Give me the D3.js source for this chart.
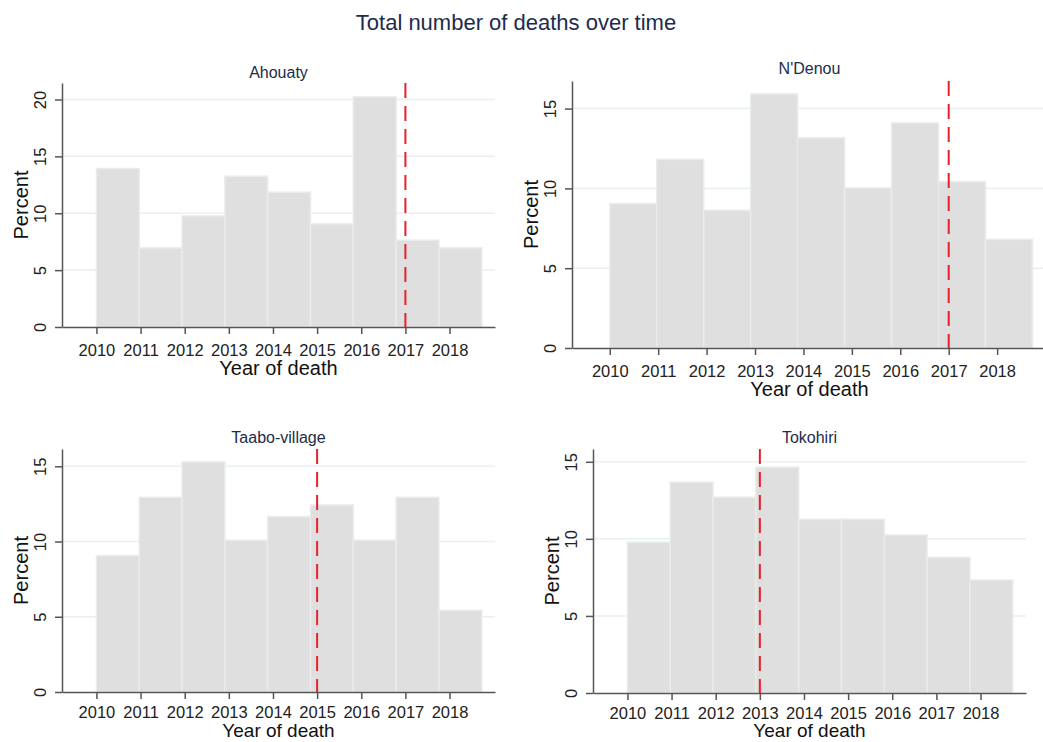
<!DOCTYPE html>
<html>
<head>
<meta charset="utf-8">
<script src="https://cdn.jsdelivr.net/npm/d3@7"></script>
<style>
  body { margin: 0; background: #fff; font-family: "Liberation Sans", Arial, sans-serif; }
</style>
</head>
<body>
<div id="chart"></div>
<script>
// percent of deaths per bin
const villages = ["Ahouaty", "N'Denou", "Taabo-village", "Tokohiri"];
const ahouaty  = [13.93, 6.95, 9.76, 13.25, 11.85, 9.06, 20.23, 7.63, 6.95];
const ndenou   = [9.05, 11.82, 8.63, 15.92, 13.18, 10.03, 14.1, 10.42, 6.81];
const taabo    = [9.06, 12.94, 15.29, 10.08, 11.66, 12.43, 10.08, 12.94, 5.43];
const tokohiri = [9.78, 13.68, 12.7, 14.65, 11.27, 11.27, 10.25, 8.8, 7.33];
const series = [ahouaty, ndenou, taabo, tokohiri];

const yearTicks = [2010, 2011, 2012, 2013, 2014, 2015, 2016, 2017, 2018];
const percentTicks = [[0, 5, 10, 15, 20], [0, 5, 10, 15], [0, 5, 10, 15], [0, 5, 10, 15]];
const percentMax = [21.45, 16.73, 16.15, 15.83];
const cutoffYear = [2017, 2017, 2015, 2013];
const binStart = 2010, binWidth = 0.97;
const yearDomain = [2009.22, 2019.03];

// panel boxes (pixels)
const boxes = [
  { left: 62, right: 495, top: 83, bottom: 327, titleY: 72, tickY: 23, xTitle: 41, xTitleSize: 20 },
  { left: 572, right: 1047, top: 81, bottom: 348, titleY: 68, tickY: 23, xTitle: 41, xTitleSize: 20 },
  { left: 62, right: 495, top: 449, bottom: 692, titleY: 437, tickY: 20, xTitle: 38.5, xTitleSize: 19 },
  { left: 593, right: 1026, top: 449, bottom: 693, titleY: 437, tickY: 20, xTitle: 37.5, xTitleSize: 19 }
];

const svg = d3.select("#chart").append("svg")
  .attr("width", 1043)
  .attr("height", 742);

svg.append("text")
  .attr("x", 516).attr("y", 22)
  .attr("text-anchor", "middle")
  .attr("dominant-baseline", "central")
  .attr("fill", "#1d2b4c")
  .style("font-size", "22px")
  .text("Total number of deaths over time");

series.forEach((vals, i) => {
  const b = boxes[i];
  const g = svg.append("g");

  const x = d3.scaleLinear().domain(yearDomain).range([b.left, b.right]);
  const y = d3.scaleLinear().domain([0, percentMax[i]]).range([b.bottom, b.top]);

  // gridlines
  g.selectAll(".grid")
    .data(percentTicks[i].filter(t => t > 0))
    .enter().append("line")
    .attr("x1", b.left).attr("x2", b.right)
    .attr("y1", d => y(d)).attr("y2", d => y(d))
    .attr("stroke", "#e8f0f1")
    .attr("stroke-width", 1.5);

  const bins = vals.map((v, k) => ({ x0: binStart + k * binWidth, x1: binStart + (k + 1) * binWidth, v }));

  g.selectAll(".bar")
    .data(bins)
    .enter().append("rect")
    .attr("x", d => x(d.x0))
    .attr("width", d => x(d.x1) - x(d.x0))
    .attr("y", d => y(d.v))
    .attr("height", d => y(0) - y(d.v))
    .attr("fill", "#dddddd")
    .attr("fill-opacity", 0.95)
    .attr("stroke", "#e8ecec")
    .attr("stroke-width", 1.5);

  // x axis
  const xAxis = g.append("g")
    .attr("transform", `translate(0,${b.bottom})`)
    .call(d3.axisBottom(x).tickValues(yearTicks).tickFormat(d3.format("d")).tickSize(7).tickSizeOuter(0));
  xAxis.select(".domain").attr("stroke", "#555").attr("stroke-width", 1.5);
  xAxis.selectAll(".tick line").attr("stroke", "#555").attr("stroke-width", 1.5);
  xAxis.selectAll(".tick text")
    .attr("y", b.tickY).attr("dy", "0.35em")
    .attr("fill", "#222")
    .style("font-size", "16.5px")
    .style("font-family", "Liberation Sans, Arial, sans-serif");

  // y axis
  const yAxis = g.append("g")
    .attr("transform", `translate(${b.left},0)`)
    .call(d3.axisLeft(y).tickValues(percentTicks[i]).tickSize(7).tickSizeOuter(0));
  yAxis.select(".domain").attr("stroke", "#555").attr("stroke-width", 1.5);
  yAxis.selectAll(".tick line").attr("stroke", "#555").attr("stroke-width", 1.5);
  yAxis.selectAll(".tick text")
    .attr("x", null).attr("dy", null)
    .attr("text-anchor", "middle")
    .attr("dominant-baseline", "central")
    .attr("transform", "translate(-22,0) rotate(-90)")
    .attr("fill", "#222")
    .style("font-size", "16.5px")
    .style("font-family", "Liberation Sans, Arial, sans-serif");

  // cutoff year
  g.append("line")
    .attr("x1", x(cutoffYear[i])).attr("x2", x(cutoffYear[i]))
    .attr("y1", b.top).attr("y2", b.bottom)
    .attr("stroke", "#e8202a")
    .attr("stroke-width", 2)
    .attr("stroke-dasharray", "15,8");

  g.append("text")
    .attr("x", (b.left + b.right) / 2).attr("y", b.titleY)
    .attr("text-anchor", "middle")
    .attr("dominant-baseline", "central")
    .attr("fill", "#1d2b4c")
    .style("font-size", "16px")
    .text(villages[i]);

  g.append("text")
    .attr("x", (b.left + b.right) / 2).attr("y", b.bottom + b.xTitle)
    .attr("text-anchor", "middle")
    .attr("dominant-baseline", "central")
    .attr("fill", "#111")
    .style("font-size", b.xTitleSize + "px")
    .text("Year of death");

  g.append("text")
    .attr("transform", `translate(${b.left - 41},${(b.top + b.bottom) / 2}) rotate(-90)`)
    .attr("text-anchor", "middle")
    .attr("dominant-baseline", "central")
    .attr("fill", "#111")
    .style("font-size", "20px")
    .text("Percent");
});
</script>
</body>
</html>
